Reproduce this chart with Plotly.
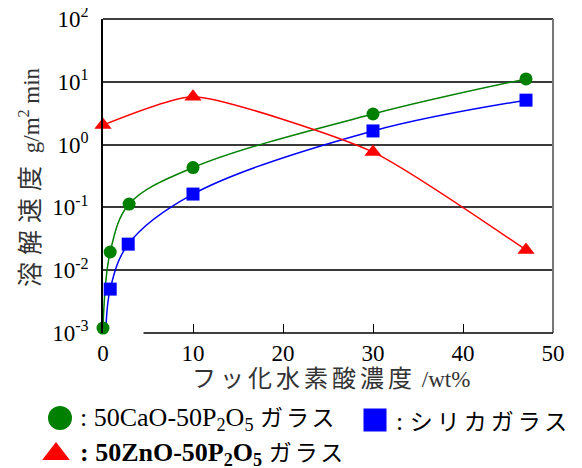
import plotly.graph_objects as go

# ---- data ----
conc_cao = [0, 0.8, 2.9, 10, 30, 47]
rate_cao = [0.0012, 0.0195, 0.113, 0.43, 3.07, 11.1]

conc_si = [0.3, 0.8, 2.8, 10, 30, 47]
rate_si = [0.0009, 0.005, 0.026, 0.163, 1.65, 5.1]

conc_zn = [0, 10, 30, 47]
rate_zn = [2.05, 5.8, 0.76, 0.021]

x_ticks = [0, 10, 20, 30, 40, 50]
y_ticks = [1e-3, 1e-2, 1e-1, 1e0, 1e1, 1e2]
y_ticktext = ["10<sup>-3</sup>", "10<sup>-2</sup>", "10<sup>-1</sup>",
              "10<sup>0</sup>", "10<sup>1</sup>", "10<sup>2</sup>"]


def jp(s, size, spacing):
    return f"<span style='font-size:{size}px;letter-spacing:{spacing}px'>{s}</span>"


name_cao = ": 50CaO-50P<sub>2</sub>O<sub>5</sub> " + jp("ガラス", 23, 3)
name_si = ": " + jp("シリカガラス", 23, 4)
name_zn = "<b>: 50ZnO-50P<sub>2</sub>O<sub>5</sub></b> " + jp("ガラス", 23, 3)
x_title = jp("フッ化水素酸濃度", 24, 4) + " /wt%"
y_title = jp("溶解速度", 25, 7) + " g/m<sup>2</sup> min"

FONT = "Liberation Serif, Noto Sans CJK JP, serif"
W, H = 574, 460  # page body adds an 8px margin

GREEN, BLUE, RED = "#008000", "#0000ff", "#ff0000"

fig = go.Figure()
# fitted curves
for xs, ys, col, sm in [(conc_cao, rate_cao, GREEN, 1.0), (conc_si, rate_si, BLUE, 1.0),
                        (conc_zn, rate_zn, RED, 0.55)]:
    fig.add_trace(go.Scatter(
        x=xs, y=ys, mode="lines", showlegend=False, hoverinfo="skip",
        line=dict(color=col, width=1.5, shape="spline", smoothing=sm)))
# measured points
fig.add_trace(go.Scatter(x=conc_cao, y=rate_cao, mode="markers", showlegend=False,
                         cliponaxis=False,
                         marker=dict(symbol="circle", size=13, color=GREEN)))
fig.add_trace(go.Scatter(x=conc_si[1:], y=rate_si[1:], mode="markers", showlegend=False,
                         marker=dict(symbol="square", size=13, color=BLUE)))
fig.add_trace(go.Scatter(x=conc_zn, y=rate_zn, mode="markers", showlegend=False,
                         cliponaxis=False,
                         marker=dict(symbol="triangle-up", size=15, color=RED)))

# legend keys drawn on a pixel-space overlay axis
legend_keys = [
    (52, 410, "circle", 24, GREEN),
    (367, 412, "square", 23, BLUE),
    (48, 446, "triangle-up", 24, RED),
]
for kx, ky, sym, sz, col in legend_keys:
    fig.add_trace(go.Scatter(x=[kx], y=[ky], xaxis="x2", yaxis="y2", mode="markers",
                             showlegend=False, hoverinfo="skip", cliponaxis=False,
                             marker=dict(symbol=sym, size=sz, color=col)))

legend_texts = [
    (70, 411, name_cao),
    (386, 413, name_si),
    (70, 446, name_zn),
]
annotations = [
    dict(text=t, xref="x2", yref="y2", x=tx, y=ty, xanchor="left", yanchor="middle",
         showarrow=False, font=dict(size=26, family=FONT, color="black"))
    for tx, ty, t in legend_texts
]
annotations += [
    dict(text=x_title, xref="x2", yref="y2", x=323, y=371,
         xanchor="center", yanchor="middle", showarrow=False,
         font=dict(size=23, family=FONT, color="#333333")),
    dict(text=y_title, xref="x2", yref="y2", x=21, y=169,
         xanchor="center", yanchor="middle", showarrow=False, textangle=-90,
         font=dict(size=23, family=FONT, color="#333333")),
]

fig.update_layout(
    width=W, height=H,
    margin=dict(l=0, r=0, t=0, b=0, autoexpand=False),
    paper_bgcolor="white", plot_bgcolor="rgba(0,0,0,0)",
    font=dict(family=FONT, size=22, color="black"),
    showlegend=False,
    xaxis=dict(domain=[95 / W, 545 / W], range=[0, 50], tickvals=x_ticks,
               ticks="inside", ticklen=9, tickcolor="black", tickwidth=1,
               showgrid=False, zeroline=False, showline=False, ticklabelstandoff=4,
               ticklabeloverflow="allow",
               tickfont=dict(size=23, family=FONT, color="black")),
    yaxis=dict(domain=[1 - 325 / H, 1 - 11 / H], type="log", range=[-3, 2],
               tickvals=y_ticks, ticktext=y_ticktext,
               ticks="", showgrid=True, gridcolor="#3a3a3a", gridwidth=1.5,
               showline=True, linecolor="black", linewidth=1.5, zeroline=False,
               ticklabelstandoff=8, ticklabeloverflow="allow",
               tickfont=dict(size=23, family=FONT, color="black")),
    xaxis2=dict(domain=[0, 1], range=[0, W], visible=False, anchor="y2",
                fixedrange=True),
    yaxis2=dict(domain=[0, 1], range=[H, 0], visible=False, anchor="x2",
                fixedrange=True),
    annotations=annotations,
    shapes=[
        dict(type="line", xref="x domain", yref="y domain", x0=0, x1=1, y0=1, y1=1,
             line=dict(color="black", width=1.5)),
        dict(type="line", xref="x domain", yref="y domain", x0=1, x1=1, y0=0, y1=1,
             line=dict(color="#777777", width=2)),
        dict(type="line", xref="x", yref="y domain", x0=4.5, x1=50, y0=0, y1=0,
             line=dict(color="black", width=1.5)),
    ],
)

fig.write_html("out.html")
